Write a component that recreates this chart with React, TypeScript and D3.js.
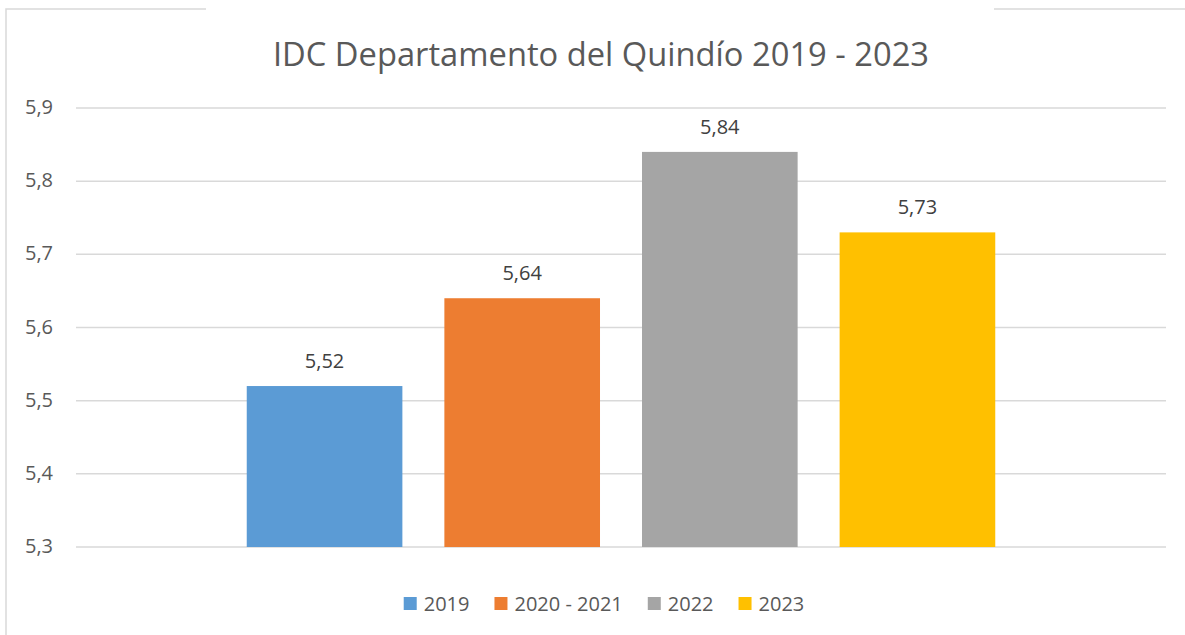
import { useEffect, useRef } from 'react';
import * as d3 from 'd3';

const seriesNames = ['2019', '2020 - 2021', '2022', '2023'];
const seriesValues = [5.52, 5.64, 5.84, 5.73];
const seriesColours = ['#5B9BD5', '#ED7D31', '#A5A5A5', '#FFC000'];
const yTicks = [5.3, 5.4, 5.5, 5.6, 5.7, 5.8, 5.9];
const chartTitle = 'IDC Departamento del Quindío 2019 - 2023';

const fmt = (v: number) => v.toFixed(2).replace('.', ',');
const fmtTick = (v: number) => v.toFixed(1).replace('.', ',');

const App = () => {
  const svgRef = useRef<SVGSVGElement>(null);

  useEffect(() => {
    const width = 1185;
    const height = 635;
    const font = 'Open Sans, sans-serif';
    const svg = d3.select(svgRef.current);
    svg.selectAll('*').remove();

    svg.append('rect').attr('width', width).attr('height', height).attr('fill', 'white');

    // partial frame lines, like the cropped excel chart border
    const frame = svg.append('g').attr('stroke', '#D9D9D9').attr('stroke-width', 1.5).attr('fill', 'none');
    frame.append('path').attr('d', `M6,${height} L6,9 L206,9`);
    frame.append('path').attr('d', `M994,9 L${width},9`);

    const plot = { left: 76, right: 1166, top: 108, bottom: 547 };
    // title and legend are centred on the whole chart box, not the plot
    const boxCentre = 602;

    const yScale = d3.scaleLinear().domain([5.3, 5.9]).range([plot.bottom, plot.top]);
    const xScale = d3
      .scaleBand()
      .domain(seriesNames)
      .range([plot.left, plot.right])
      .paddingInner(0.2125)
      .paddingOuter(0.864);

    svg
      .append('text')
      .attr('x', boxCentre - 1)
      .attr('y', 66)
      .attr('text-anchor', 'middle')
      .style('font-family', font)
      .style('font-size', '32.7px')
      .attr('fill', '#595959')
      .text(chartTitle);

    // gridlines
    svg
      .append('g')
      .selectAll('line')
      .data(yTicks)
      .join('line')
      .attr('x1', plot.left)
      .attr('x2', plot.right)
      .attr('y1', (d) => yScale(d))
      .attr('y2', (d) => yScale(d))
      .attr('stroke', '#D9D9D9')
      .attr('stroke-width', 1.5);

    svg
      .append('g')
      .selectAll('text')
      .data(yTicks)
      .join('text')
      .attr('x', 53)
      .attr('y', (d) => yScale(d))
      .attr('dy', '0.3em')
      .attr('text-anchor', 'end')
      .style('font-family', font)
      .style('font-size', '20px')
      .attr('fill', '#595959')
      .text((d) => fmtTick(d));

    const bars = svg.append('g');
    bars
      .selectAll('rect')
      .data(seriesValues)
      .join('rect')
      .attr('x', (_d, i) => xScale(seriesNames[i]) as number)
      .attr('width', xScale.bandwidth())
      .attr('y', (d) => yScale(d))
      .attr('height', (d) => yScale(5.3) - yScale(d))
      .attr('fill', (_d, i) => seriesColours[i]);

    bars
      .selectAll('text')
      .data(seriesValues)
      .join('text')
      .attr('x', (_d, i) => (xScale(seriesNames[i]) as number) + xScale.bandwidth() / 2)
      .attr('y', (d) => yScale(d) - 18)
      .attr('text-anchor', 'middle')
      .style('font-family', font)
      .style('font-size', '20px')
      .attr('fill', '#404040')
      .text((d) => fmt(d));

    // legend
    const legend = svg.append('g');
    const items = legend
      .selectAll('g')
      .data(seriesNames)
      .join('g');
    items
      .append('rect')
      .attr('width', 13)
      .attr('height', 13)
      .attr('y', 597)
      .attr('fill', (_d, i) => seriesColours[i]);
    items
      .append('text')
      .attr('x', 20)
      .attr('y', 604)
      .attr('dy', '0.35em')
      .style('font-family', font)
      .style('font-size', '20px')
      .attr('fill', '#595959')
      .text((d) => d);

    const widths: number[] = [];
    items.each(function () {
      const t = d3.select(this).select('text').node() as SVGTextElement;
      widths.push(20 + t.getComputedTextLength());
    });
    const gap = 25;
    const total = d3.sum(widths) + gap * (widths.length - 1);
    let cursor = boxCentre + 2 - total / 2;
    items.attr('transform', (_d, i) => {
      const x = cursor;
      cursor += widths[i] + gap;
      return `translate(${x},0)`;
    });
  }, []);

  return (
    <svg
      ref={svgRef}
      width={1185}
      height={635}
      style={{ position: 'absolute', left: 0, top: 0, display: 'block' }}
    />
  );
};

export default App;
